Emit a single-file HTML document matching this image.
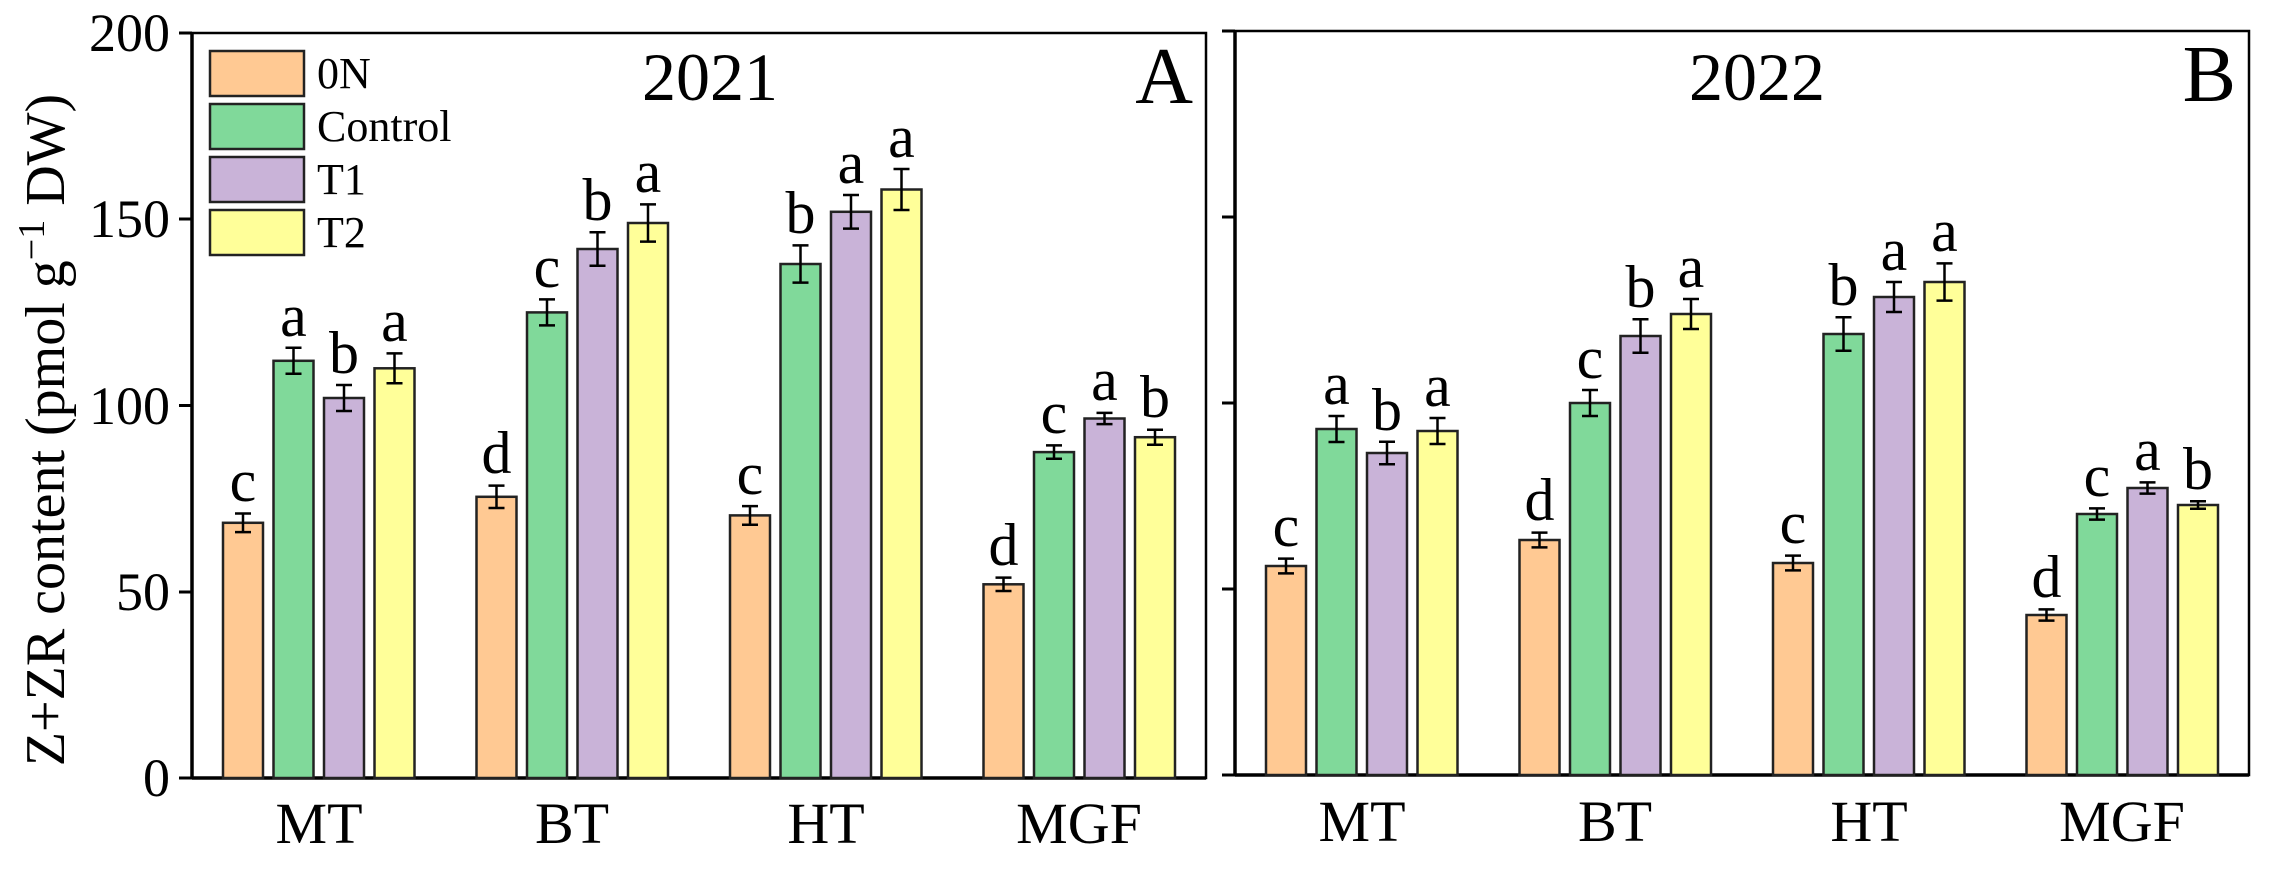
<!DOCTYPE html>
<html><head><meta charset="utf-8"><style>
html,body{margin:0;padding:0;background:#fff}
svg{display:block;font-family:"Liberation Serif","DejaVu Serif",serif}
svg text,svg tspan{font-family:"Liberation Serif","DejaVu Serif",serif !important;fill:#000}
.o{fill:#FFC993}.g{fill:#80D99A}.p{fill:#C9B3D8}.y{fill:#FFFF99}
rect.b{stroke:#222;stroke-width:2.5}
.e{stroke:#000;stroke-width:2.5;fill:none}
.l{font-size:60px;text-anchor:middle}
</style></head><body>
<svg width="2274" height="869" viewBox="0 0 2274 869" xmlns="http://www.w3.org/2000/svg" font-family="Liberation Serif, serif">
<!-- Panel A frame -->
<rect x="192" y="33" width="1014" height="745" fill="none" stroke="#000" stroke-width="2.5"/>
<line x1="192" y1="778" x2="1206" y2="778" stroke="#000" stroke-width="3.5"/>
<line x1="192" y1="33" x2="192" y2="778" stroke="#000" stroke-width="3.5"/>
<g stroke="#000" stroke-width="3">
<line x1="179" y1="33" x2="192" y2="33"/><line x1="179" y1="219" x2="192" y2="219"/><line x1="179" y1="405.5" x2="192" y2="405.5"/><line x1="179" y1="592" x2="192" y2="592"/><line x1="179" y1="778" x2="192" y2="778"/>
</g>
<g font-family="Liberation Serif, serif" font-size="54" text-anchor="end">
<text x="170" y="51">200</text><text x="170" y="237">150</text><text x="170" y="424">100</text><text x="170" y="610">50</text><text x="170" y="796">0</text>
</g>
<text font-family="Liberation Serif, serif" transform="translate(64,430) rotate(-90)" text-anchor="middle" font-size="56">Z+ZR content (pmol g<tspan dy="-20" font-size="38">−1</tspan><tspan dy="20"> DW)</tspan></text>
<!-- Panel B frame -->
<rect x="1235" y="31" width="1014" height="744" fill="none" stroke="#000" stroke-width="2.5"/>
<line x1="1235" y1="775" x2="2249" y2="775" stroke="#000" stroke-width="3.5"/>
<line x1="1235" y1="31" x2="1235" y2="775" stroke="#000" stroke-width="3.5"/>
<g stroke="#000" stroke-width="3">
<line x1="1222" y1="31" x2="1235" y2="31"/><line x1="1222" y1="217" x2="1235" y2="217"/><line x1="1222" y1="403" x2="1235" y2="403"/><line x1="1222" y1="589" x2="1235" y2="589"/><line x1="1222" y1="775" x2="1235" y2="775"/>
</g>
<!-- titles -->
<g font-family="Liberation Serif, serif">
<text x="710" y="100" text-anchor="middle" font-size="68">2021</text>
<text x="1193" y="103" text-anchor="end" font-size="80">A</text>
<text x="1757" y="100" text-anchor="middle" font-size="68">2022</text>
<text x="2236" y="101" text-anchor="end" font-size="80">B</text>
</g>
<!-- legend -->
<rect class="b o" x="210" y="51" width="94" height="45"/>
<rect class="b g" x="210" y="104" width="94" height="45"/>
<rect class="b p" x="210" y="157" width="94" height="45"/>
<rect class="b y" x="210" y="210" width="94" height="45"/>
<g font-family="Liberation Serif, serif" font-size="44">
<text x="317" y="88">0N</text><text x="317" y="141">Control</text><text x="317" y="194">T1</text><text x="317" y="247">T2</text>
</g>
<!-- categories -->
<g font-family="Liberation Serif, serif" font-size="58" text-anchor="middle">
<text x="319" y="843">MT</text><text x="572" y="843">BT</text><text x="826" y="843">HT</text><text x="1079" y="843">MGF</text>
<text x="1362" y="841">MT</text><text x="1615" y="841">BT</text><text x="1869" y="841">HT</text><text x="2122" y="841">MGF</text>
</g>
<!-- Panel A bars -->
<rect class="b o" x="223" y="522.8" width="40" height="255.2"/>
<rect class="b g" x="273.5" y="360.8" width="40" height="417.2"/>
<rect class="b p" x="324" y="398" width="40" height="380"/>
<rect class="b y" x="374.5" y="368.3" width="40" height="409.7"/>
<rect class="b o" x="476.5" y="496.8" width="40" height="281.2"/>
<rect class="b g" x="527" y="312.4" width="40" height="465.6"/>
<rect class="b p" x="577.5" y="249" width="40" height="529"/>
<rect class="b y" x="628" y="223" width="40" height="555"/>
<rect class="b o" x="730" y="515.4" width="40" height="262.6"/>
<rect class="b g" x="780.5" y="264" width="40" height="514"/>
<rect class="b p" x="831" y="211.8" width="40" height="566.2"/>
<rect class="b y" x="881.5" y="189.5" width="40" height="588.5"/>
<rect class="b o" x="983.5" y="584.3" width="40" height="193.7"/>
<rect class="b g" x="1034" y="452.1" width="40" height="325.9"/>
<rect class="b p" x="1084.5" y="418.5" width="40" height="359.5"/>
<rect class="b y" x="1135" y="437.2" width="40" height="340.8"/>
<!-- Panel B bars -->
<rect class="b o" x="1266" y="566" width="40" height="209"/>
<rect class="b g" x="1316.5" y="429" width="40" height="346"/>
<rect class="b p" x="1367" y="453" width="40" height="322"/>
<rect class="b y" x="1417.5" y="431" width="40" height="344"/>
<rect class="b o" x="1519.5" y="540" width="40" height="235"/>
<rect class="b g" x="1570" y="403" width="40" height="372"/>
<rect class="b p" x="1620.5" y="336" width="40" height="439"/>
<rect class="b y" x="1671" y="314" width="40" height="461"/>
<rect class="b o" x="1773" y="563" width="40" height="212"/>
<rect class="b g" x="1823.5" y="334" width="40" height="441"/>
<rect class="b p" x="1874" y="297" width="40" height="478"/>
<rect class="b y" x="1924.5" y="282" width="40" height="493"/>
<rect class="b o" x="2026.5" y="615" width="40" height="160"/>
<rect class="b g" x="2077" y="514" width="40" height="261"/>
<rect class="b p" x="2127.5" y="488" width="40" height="287"/>
<rect class="b y" x="2178" y="505" width="40" height="270"/>
<!-- error bars A -->
<path class="e" d="
M243,513.5V532.1M235,513.5H251M235,532.1H251
M293.5,347.8V373.8M285.5,347.8H301.5M285.5,373.8H301.5
M344,385V411M336,385H352M336,411H352
M394.5,353.4V383.2M386.5,353.4H402.5M386.5,383.2H402.5
M496.5,485.6V508M488.5,485.6H504.5M488.5,508H504.5
M547,299.4V325.4M539,299.4H555M539,325.4H555
M597.5,232.2V265.8M589.5,232.2H605.5M589.5,265.8H605.5
M648,204.4V241.6M640,204.4H656M640,241.6H656
M750,506.1V524.7M742,506.1H758M742,524.7H758
M800.5,245.4V282.6M792.5,245.4H808.5M792.5,282.6H808.5
M851,195V228.6M843,195H859M843,228.6H859
M901.5,169V210M893.5,169H909.5M893.5,210H909.5
M1003.5,577.6V591M995.5,577.6H1011.5M995.5,591H1011.5
M1054,445.4V458.8M1046,445.4H1062M1046,458.8H1062
M1104.5,412.9V424.1M1096.5,412.9H1112.5M1096.5,424.1H1112.5
M1155,429.7V444.7M1147,429.7H1163M1147,444.7H1163
"/>
<!-- error bars B -->
<path class="e" d="
M1286,558.6V573.4M1278,558.6H1294M1278,573.4H1294
M1336.5,416V442M1328.5,416H1344.5M1328.5,442H1344.5
M1387,441.8V464.2M1379,441.8H1395M1379,464.2H1395
M1437.5,418V444M1429.5,418H1445.5M1429.5,444H1445.5
M1539.5,532.6V547.4M1531.5,532.6H1547.5M1531.5,547.4H1547.5
M1590,390V416M1582,390H1598M1582,416H1598
M1640.5,319.3V352.7M1632.5,319.3H1648.5M1632.5,352.7H1648.5
M1691,299V329M1683,299H1699M1683,329H1699
M1793,555.6V570.4M1785,555.6H1801M1785,570.4H1801
M1843.5,317.3V350.7M1835.5,317.3H1851.5M1835.5,350.7H1851.5
M1894,282V312M1886,282H1902M1886,312H1902
M1944.5,263.4V300.6M1936.5,263.4H1952.5M1936.5,300.6H1952.5
M2046.5,609.4V620.6M2038.5,609.4H2054.5M2038.5,620.6H2054.5
M2097,508.4V519.6M2089,508.4H2105M2089,519.6H2105
M2147.5,482.4V493.6M2139.5,482.4H2155.5M2139.5,493.6H2155.5
M2198,501.3V508.7M2190,501.3H2206M2190,508.7H2206
"/>
<!-- letters -->
<g class="l" font-family="Liberation Serif, serif" font-size="60" text-anchor="middle">
<text x="243" y="501">c</text><text x="293.5" y="336">a</text><text x="344" y="373">b</text><text x="394.5" y="341">a</text>
<text x="496.5" y="473">d</text><text x="547" y="287">c</text><text x="597.5" y="220">b</text><text x="648" y="192">a</text>
<text x="750" y="494">c</text><text x="800.5" y="233">b</text><text x="851" y="183">a</text><text x="901.5" y="157">a</text>
<text x="1003.5" y="565">d</text><text x="1054" y="433">c</text><text x="1104.5" y="400">a</text><text x="1155" y="417">b</text>
<text x="1286" y="546">c</text><text x="1336.5" y="404">a</text><text x="1387" y="430">b</text><text x="1437.5" y="406">a</text>
<text x="1539.5" y="520">d</text><text x="1590" y="378">c</text><text x="1640.5" y="307">b</text><text x="1691" y="287">a</text>
<text x="1793" y="543">c</text><text x="1843.5" y="305">b</text><text x="1894" y="270">a</text><text x="1944.5" y="251">a</text>
<text x="2046.5" y="597">d</text><text x="2097" y="496">c</text><text x="2147.5" y="470">a</text><text x="2198" y="489">b</text>
</g>
</svg>
</body></html>
